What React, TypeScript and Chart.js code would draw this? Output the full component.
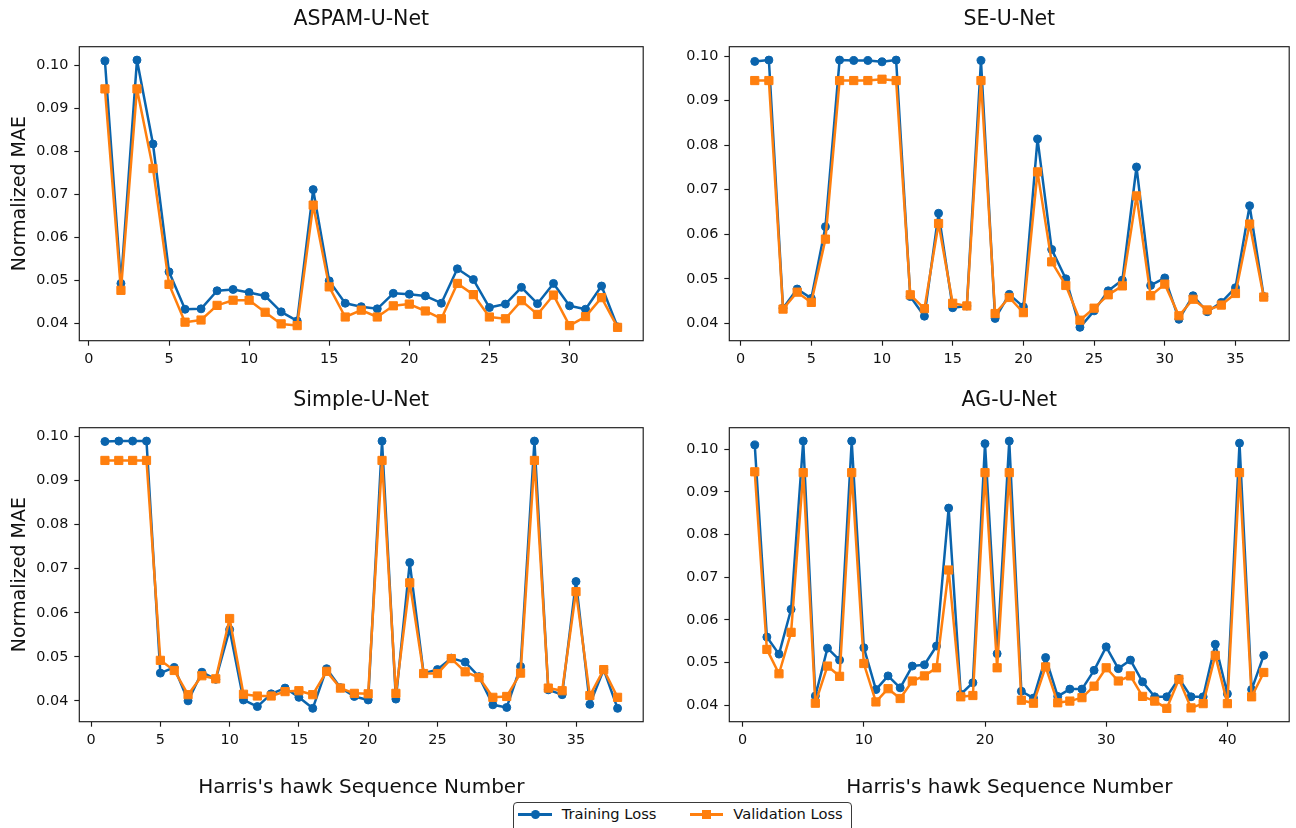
import React, { useEffect, useRef } from "react";
import { Chart, registerables } from "chart.js";

Chart.register(...registerables);

const FONT = "'DejaVu Sans', 'Liberation Sans', sans-serif";
const TEXT_COLOR = "#111111";
const AXIS_COLOR = "#1a1a1a";
const TRAIN_COLOR = "#0a64ad";
const VAL_COLOR = "#ff7f0e";

const SERIES_NAMES = ["Training Loss", "Validation Loss"];
const X_AXIS_TITLE = "Harris's hawk Sequence Number";
const Y_AXIS_TITLE = "Normalized MAE";

// ASPAM-U-Net
const aspamTrain = [
  0.1010, 0.0493, 0.1012, 0.0817, 0.0520, 0.0433, 0.0434, 0.0476, 0.0479, 0.0472,
  0.0464, 0.0427, 0.0406, 0.0711, 0.0499, 0.0447, 0.0439, 0.0434, 0.0470, 0.0468,
  0.0464, 0.0447, 0.0527, 0.0502, 0.0437, 0.0445, 0.0484, 0.0446, 0.0493, 0.0441,
  0.0433, 0.0487, 0.0392,
];
const aspamVal = [
  0.0945, 0.0477, 0.0945, 0.0760, 0.0491, 0.0403, 0.0408, 0.0442, 0.0454, 0.0454,
  0.0426, 0.0399, 0.0395, 0.0675, 0.0485, 0.0415, 0.0431, 0.0415, 0.0441, 0.0445,
  0.0429, 0.0411, 0.0493, 0.0467, 0.0415, 0.0411, 0.0453, 0.0421, 0.0466, 0.0395,
  0.0416, 0.0460, 0.0391,
];

// SE-U-Net
const seTrain = [
  0.0988, 0.0991, 0.0434, 0.0477, 0.0456, 0.0617, 0.0991, 0.0990, 0.0990, 0.0987,
  0.0991, 0.0460, 0.0416, 0.0647, 0.0435, 0.0439, 0.0990, 0.0411, 0.0465, 0.0437,
  0.0814, 0.0566, 0.0500, 0.0391, 0.0428, 0.0473, 0.0497, 0.0751, 0.0485, 0.0502,
  0.0409, 0.0462, 0.0426, 0.0447, 0.0480, 0.0664, 0.0460,
];
const seVal = [
  0.0945, 0.0945, 0.0432, 0.0470, 0.0447, 0.0589, 0.0945, 0.0945, 0.0945, 0.0948,
  0.0945, 0.0464, 0.0433, 0.0624, 0.0445, 0.0439, 0.0945, 0.0422, 0.0458, 0.0424,
  0.0740, 0.0538, 0.0485, 0.0407, 0.0434, 0.0464, 0.0484, 0.0686, 0.0462, 0.0488,
  0.0417, 0.0454, 0.0430, 0.0441, 0.0467, 0.0623, 0.0459,
];

// Simple-U-Net
const simpleTrain = [
  0.0989, 0.0990, 0.0990, 0.0990, 0.0463, 0.0476, 0.0400, 0.0465, 0.0449, 0.0562,
  0.0402, 0.0387, 0.0416, 0.0429, 0.0408, 0.0383, 0.0473, 0.0430, 0.0410, 0.0402,
  0.0990, 0.0404, 0.0714, 0.0463, 0.0471, 0.0497, 0.0488, 0.0455, 0.0391, 0.0385,
  0.0478, 0.0990, 0.0425, 0.0414, 0.0671, 0.0392, 0.0471, 0.0383,
];
const simpleVal = [
  0.0946, 0.0946, 0.0946, 0.0946, 0.0492, 0.0469, 0.0414, 0.0457, 0.0450, 0.0587,
  0.0415, 0.0411, 0.0411, 0.0421, 0.0423, 0.0414, 0.0467, 0.0429, 0.0417, 0.0416,
  0.0946, 0.0417, 0.0668, 0.0462, 0.0462, 0.0496, 0.0466, 0.0453, 0.0408, 0.0410,
  0.0463, 0.0946, 0.0429, 0.0423, 0.0648, 0.0412, 0.0471, 0.0408,
];

// AG-U-Net
const agTrain = [
  0.1010, 0.0560, 0.0520, 0.0625, 0.1019, 0.0422, 0.0534, 0.0506, 0.1019, 0.0535,
  0.0437, 0.0469, 0.0441, 0.0492, 0.0495, 0.0539, 0.0862, 0.0426, 0.0453, 0.1013,
  0.0521, 0.1019, 0.0433, 0.0417, 0.0512, 0.0421, 0.0438, 0.0438, 0.0482, 0.0537,
  0.0486, 0.0506, 0.0455, 0.0420, 0.0420, 0.0463, 0.0420, 0.0420, 0.0543, 0.0427,
  0.1014, 0.0437, 0.0517,
];
const agVal = [
  0.0947, 0.0531, 0.0474, 0.0571, 0.0945, 0.0405, 0.0492, 0.0468, 0.0945, 0.0498,
  0.0408, 0.0439, 0.0416, 0.0457, 0.0469, 0.0488, 0.0717, 0.0420, 0.0423, 0.0945,
  0.0488, 0.0945, 0.0412, 0.0405, 0.0490, 0.0406, 0.0410, 0.0418, 0.0445, 0.0488,
  0.0457, 0.0469, 0.0421, 0.0410, 0.0393, 0.0461, 0.0394, 0.0404, 0.0517, 0.0404,
  0.0945, 0.0420, 0.0477,
];

type PanelSpec = {
  title: string;
  train: number[];
  val: number[];
  xStep: number;
  canvas: { left: number; top: number; width: number; height: number };
  plot: { left: number; top: number; right: number; bottom: number };
  showYTitle: boolean;
  showXTitle: boolean;
};

const LEFT_COL = { left: 0, width: 650, plotLeft: 79.3, plotRight: 645 };
const RIGHT_COL = { left: 650, width: 646, plotLeft: 729.3, plotRight: 1293.3 };
const TOP_ROW = { top: 0, height: 381, plotTop: 46.7, plotBottom: 340.7 };
const BOTTOM_ROW = { top: 381, height: 419, plotTop: 427.7, plotBottom: 721.7 };

function makePanel(
  title: string,
  train: number[],
  val: number[],
  xStep: number,
  col: typeof LEFT_COL,
  row: typeof TOP_ROW,
  showYTitle: boolean,
  showXTitle: boolean
): PanelSpec {
  return {
    title,
    train,
    val,
    xStep,
    canvas: { left: col.left, top: row.top, width: col.width, height: row.height },
    plot: { left: col.plotLeft, top: row.plotTop, right: col.plotRight, bottom: row.plotBottom },
    showYTitle,
    showXTitle,
  };
}

const PANELS: PanelSpec[] = [
  makePanel("ASPAM-U-Net", aspamTrain, aspamVal, 5, LEFT_COL, TOP_ROW, true, false),
  makePanel("SE-U-Net", seTrain, seVal, 5, RIGHT_COL, TOP_ROW, false, false),
  makePanel("Simple-U-Net", simpleTrain, simpleVal, 5, LEFT_COL, BOTTOM_ROW, true, true),
  makePanel("AG-U-Net", agTrain, agVal, 10, RIGHT_COL, BOTTOM_ROW, false, true),
];

// Draws the closed rectangular frame around the plotting area.
const axesFrame = {
  id: "axesFrame",
  afterDatasetsDraw(chart: Chart) {
    const { ctx, chartArea: a } = chart;
    ctx.save();
    ctx.strokeStyle = AXIS_COLOR;
    ctx.lineWidth = 1.15;
    ctx.strokeRect(a.left, a.top, a.right - a.left, a.bottom - a.top);
    ctx.restore();
  },
};

function withMargins(lo: number, hi: number) {
  const m = (hi - lo) * 0.05;
  return { min: lo - m, max: hi + m };
}

function Panel({ spec }: { spec: PanelSpec }) {
  const ref = useRef<HTMLCanvasElement | null>(null);

  useEffect(() => {
    if (!ref.current) return;
    const n = spec.train.length;
    const seq = Array.from({ length: n }, (_, i) => i + 1);
    const all = [...spec.train, ...spec.val];
    const yr = withMargins(Math.min(...all), Math.max(...all));
    const xr = withMargins(1, n);

    const yAxisWidth = spec.plot.left - spec.canvas.left;
    const xAxisHeight = spec.canvas.top + spec.canvas.height - spec.plot.bottom;
    const padRight = spec.canvas.left + spec.canvas.width - spec.plot.right;
    const titleTop = 7.3;
    const titleLine = 20.5 * 1.2;
    const titleBottom = spec.plot.top - spec.canvas.top - titleTop - titleLine;

    const tickFont = { family: FONT, size: 14.4 };
    const grid = {
      drawOnChartArea: false,
      drawTicks: true,
      tickLength: 5,
      tickWidth: 1.15,
      tickColor: AXIS_COLOR,
    };

    const chart = new Chart(ref.current, {
      type: "line",
      data: {
        datasets: [
          {
            label: SERIES_NAMES[0],
            data: seq.map((x, i) => ({ x, y: spec.train[i] })),
            borderColor: TRAIN_COLOR,
            backgroundColor: TRAIN_COLOR,
            borderWidth: 2.5,
            borderJoinStyle: "round",
            borderCapStyle: "round",
            pointStyle: "circle",
            pointRadius: 4,
            pointBorderWidth: 1,
            pointBackgroundColor: TRAIN_COLOR,
            pointBorderColor: TRAIN_COLOR,
            tension: 0,
            order: 2,
          },
          {
            label: SERIES_NAMES[1],
            data: seq.map((x, i) => ({ x, y: spec.val[i] })),
            borderColor: VAL_COLOR,
            backgroundColor: VAL_COLOR,
            borderWidth: 2.5,
            borderJoinStyle: "round",
            borderCapStyle: "round",
            pointStyle: "rect",
            pointRadius: 5.8,
            pointBorderWidth: 1,
            pointBackgroundColor: VAL_COLOR,
            pointBorderColor: VAL_COLOR,
            tension: 0,
            order: 1,
          },
        ],
      },
      options: {
        responsive: false,
        animation: false,
        devicePixelRatio: 1,
        events: [],
        layout: { padding: { left: 0, top: 0, right: padRight, bottom: 0 } },
        plugins: {
          legend: { display: false },
          tooltip: { enabled: false },
          title: {
            display: true,
            text: spec.title,
            fullSize: false,
            color: TEXT_COLOR,
            font: { family: FONT, size: 20.5, weight: "normal", lineHeight: 1.2 },
            padding: { top: titleTop, bottom: titleBottom },
          },
        },
        scales: {
          x: {
            type: "linear",
            min: xr.min,
            max: xr.max,
            afterFit: (s: any) => {
              s.height = xAxisHeight;
            },
            ticks: {
              stepSize: spec.xStep,
              includeBounds: false,
              autoSkip: false,
              maxRotation: 0,
              padding: 4.6,
              color: TEXT_COLOR,
              font: tickFont,
              callback: (v: any) => String(Math.round(Number(v))),
            },
            grid,
            border: { display: false },
            title: {
              display: spec.showXTitle,
              text: X_AXIS_TITLE,
              color: TEXT_COLOR,
              font: { family: FONT, size: 20, lineHeight: 1.2 },
              padding: { top: 8.4, bottom: 0 },
            },
          },
          y: {
            type: "linear",
            min: yr.min,
            max: yr.max,
            afterFit: (s: any) => {
              s.width = yAxisWidth;
            },
            ticks: {
              stepSize: 0.01,
              includeBounds: false,
              padding: 6,
              color: TEXT_COLOR,
              font: tickFont,
              callback: (v: any) => Number(v).toFixed(2),
            },
            grid,
            border: { display: false },
            title: {
              display: spec.showYTitle,
              text: Y_AXIS_TITLE,
              color: TEXT_COLOR,
              font: { family: FONT, size: 19, lineHeight: 1.2 },
              padding: { top: 8.6, bottom: 0 },
            },
          },
        },
      },
      plugins: [axesFrame],
    } as any);

    return () => chart.destroy();
  }, [spec]);

  return (
    <canvas
      ref={ref}
      width={spec.canvas.width}
      height={spec.canvas.height}
      style={{
        position: "absolute",
        left: spec.canvas.left,
        top: spec.canvas.top,
        width: spec.canvas.width,
        height: spec.canvas.height,
      }}
    />
  );
}

function LegendEntry({
  lineLeft,
  lineRight,
  textLeft,
  color,
  marker,
  label,
}: {
  lineLeft: number;
  lineRight: number;
  textLeft: number;
  color: string;
  marker: "circle" | "square";
  label: string;
}) {
  const cy = 814.3;
  const mid = (lineLeft + lineRight) / 2;
  const size = 9;
  return (
    <>
      <div
        style={{
          position: "absolute",
          left: lineLeft,
          top: cy - 1.25,
          width: lineRight - lineLeft,
          height: 2.5,
          background: color,
        }}
      />
      <div
        style={{
          position: "absolute",
          left: mid - size / 2,
          top: cy - size / 2,
          width: size,
          height: size,
          background: color,
          borderRadius: marker === "circle" ? "50%" : 0,
        }}
      />
      <div
        style={{
          position: "absolute",
          left: textLeft,
          top: cy - 10,
          height: 20,
          lineHeight: "20px",
          fontFamily: FONT,
          fontSize: 14.7,
          color: TEXT_COLOR,
          whiteSpace: "nowrap",
        }}
      >
        {label}
      </div>
    </>
  );
}

export default function App() {
  return (
    <div
      style={{
        position: "fixed",
        left: 0,
        top: 0,
        width: 1296,
        height: 828,
        overflow: "hidden",
        background: "#ffffff",
      }}
    >
      {PANELS.map((p) => (
        <Panel key={p.title} spec={p} />
      ))}
      <div
        style={{
          position: "absolute",
          left: 513,
          top: 802,
          width: 339,
          height: 40,
          boxSizing: "border-box",
          border: "1px solid #3a3a3a",
          borderRadius: 4,
          background: "#ffffff",
        }}
      />
      <LegendEntry
        lineLeft={518.3}
        lineRight={551.7}
        textLeft={561.7}
        color={TRAIN_COLOR}
        marker="circle"
        label={SERIES_NAMES[0]}
      />
      <LegendEntry
        lineLeft={690}
        lineRight={722.7}
        textLeft={733.3}
        color={VAL_COLOR}
        marker="square"
        label={SERIES_NAMES[1]}
      />
    </div>
  );
}
